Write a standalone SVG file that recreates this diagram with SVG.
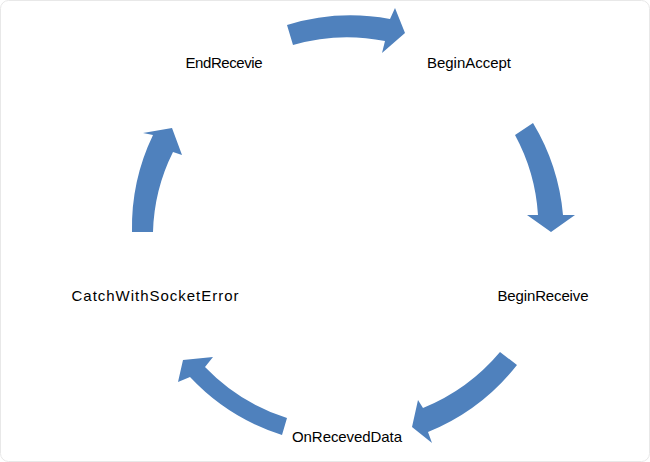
<svg xmlns="http://www.w3.org/2000/svg" width="650" height="462" viewBox="0 0 650 462">
<style>
.arrow{fill:#4F81BD;stroke:none}
.lbl{font-family:"Liberation Sans","Open Sans",sans-serif;font-size:15px;fill:#000;text-anchor:middle}
</style>
<rect x="0.5" y="0.5" width="649" height="461" rx="8" fill="#fff" stroke="#e8e8e8"/>
<g id="connectors">
<path class="arrow" d="M287,25 A215,215 0 0 1 390,19 L395,8 L405,33 L382,53 L385,41 A192,192 0 0 0 293,45 Z"/>
<path class="arrow" d="M533,123 A215,215 0 0 1 563,215 L575,215 L551,232 L527,215 L538,215 A193,193 0 0 0 515,135 Z"/>
<path class="arrow" d="M517,365 A218,218 0 0 1 428,432 L432,443 L412,427 L418,400 L423,408 A198,198 0 0 0 500,352 Z"/>
<path class="arrow" d="M282,435 A215,215 0 0 1 190,377 L178,382 L183,360 L213,357 L205,367 A195,195 0 0 0 287,418 Z"/>
<path class="arrow" d="M132,232 A213,213 0 0 1 153,135 L143,133 L172,128 L182,155 L173,152 A190,190 0 0 0 153,232 Z"/>
</g>
<g id="node-endrecevie"><text class="lbl" x="224" y="68" textLength="77" lengthAdjust="spacing">EndRecevie</text></g>
<g id="node-beginaccept"><text class="lbl" x="469" y="68" textLength="84" lengthAdjust="spacing">BeginAccept</text></g>
<g id="node-beginreceive"><text class="lbl" x="543" y="301" textLength="91" lengthAdjust="spacing">BeginReceive</text></g>
<g id="node-onreceveddata"><text class="lbl" x="347" y="442" textLength="110" lengthAdjust="spacing">OnRecevedData</text></g>
<g id="node-catchwithsocketerror"><text class="lbl" x="155" y="301" textLength="167" lengthAdjust="spacing">CatchWithSocketError</text></g>
</svg>
